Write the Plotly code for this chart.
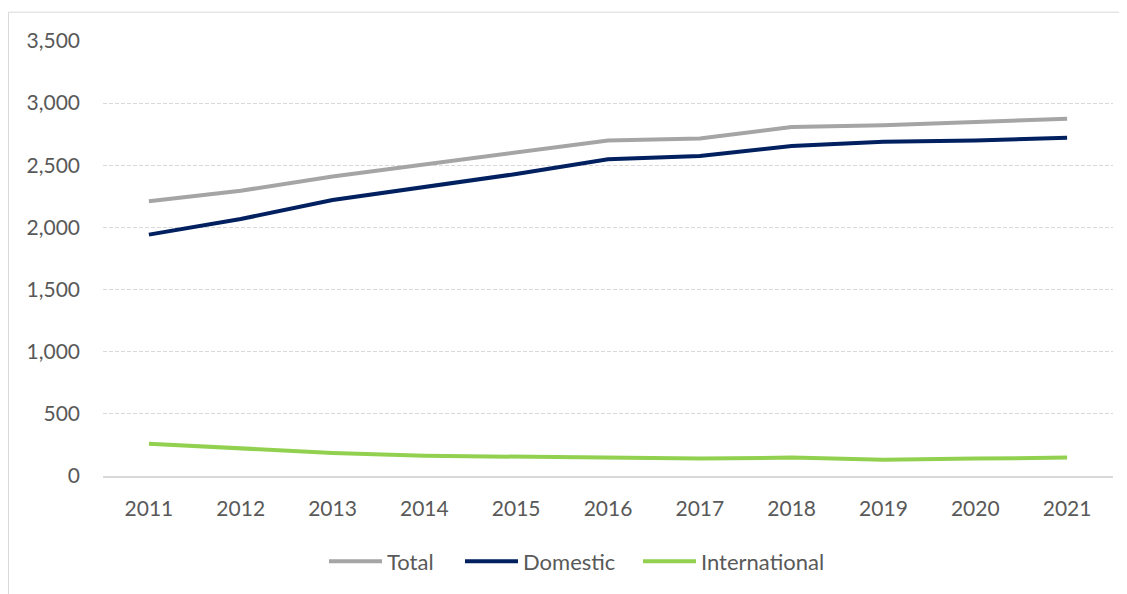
import plotly.graph_objects as go

years = ["2011", "2012", "2013", "2014", "2015", "2016", "2017", "2018", "2019", "2020", "2021"]
total = [2210, 2295, 2410, 2508, 2602, 2700, 2716, 2808, 2822, 2845, 2874]
domestic = [1942, 2068, 2220, 2325, 2430, 2548, 2575, 2655, 2690, 2700, 2722]
international = [260, 220, 185, 163, 156, 148, 140, 148, 130, 140, 148]

y_ticks = [0, 500, 1000, 1500, 2000, 2500, 3000, 3500]
y_labels = ["0", "500", "1,000", "1,500", "2,000", "2,500", "3,000", "3,500"]

FONT = "Lato"
TXT = "#595959"

# page body has an 8px margin; figure is sized to fit the window
W, H = 1119, 586
L, R, T, B = 95, 14, 33, 115
pw, ph = W - L - R, H - T - B
AX_Y = H - B  # axis line in figure coords

fig = go.Figure()
fig.add_trace(go.Scatter(x=years, y=total, name="Total", mode="lines",
                         line=dict(color="#A5A5A5", width=4), legend="legend"))
fig.add_trace(go.Scatter(x=years, y=domestic, name="Domestic", mode="lines",
                         line=dict(color="#002060", width=4), legend="legend2"))
fig.add_trace(go.Scatter(x=years, y=international, name="International", mode="lines",
                         line=dict(color="#92D050", width=4), legend="legend3"))

leg_y = (AX_Y - 557) / ph


def leg(px):
    return dict(orientation="h", x=(px - L) / pw, xanchor="left", y=leg_y, yanchor="middle",
                font=dict(family=FONT, size=22, color=TXT), itemwidth=53,
                bgcolor="rgba(0,0,0,0)", borderwidth=0)


fig.update_layout(
    width=W, height=H,
    margin=dict(l=L, r=R, t=T, b=B),
    paper_bgcolor="white", plot_bgcolor="white",
    font=dict(family=FONT, size=21, color=TXT),
    showlegend=True,
    legend=leg(316),
    legend2=leg(452),
    legend3=leg(630),
    xaxis=dict(type="category", range=[-0.5, 10.5], showgrid=False, zeroline=False,
               showline=True, linecolor="#D9D9D9", linewidth=1.5, ticks="",
               ticklabelstandoff=13, tickfont=dict(family=FONT, size=21, color=TXT)),
    yaxis=dict(range=[0, 3500], tickmode="array", tickvals=y_ticks, ticktext=y_labels,
               showgrid=True, gridcolor="#D9D9D9", griddash="4px,2px", gridwidth=1,
               zeroline=False, showline=False, ticks="", ticklabelstandoff=22,
               tickfont=dict(family=FONT, size=21, color=TXT)),
    shapes=[dict(type="rect", xref="paper", yref="paper",
                 x0=(0.5 - L) / pw, x1=(1140 - L) / pw,
                 y0=(AX_Y - 620) / ph, y1=(AX_Y - 4) / ph,
                 line=dict(color="#D9D9D9", width=1), fillcolor="rgba(0,0,0,0)",
                 layer="below")],
)

fig.write_html("out.html")
